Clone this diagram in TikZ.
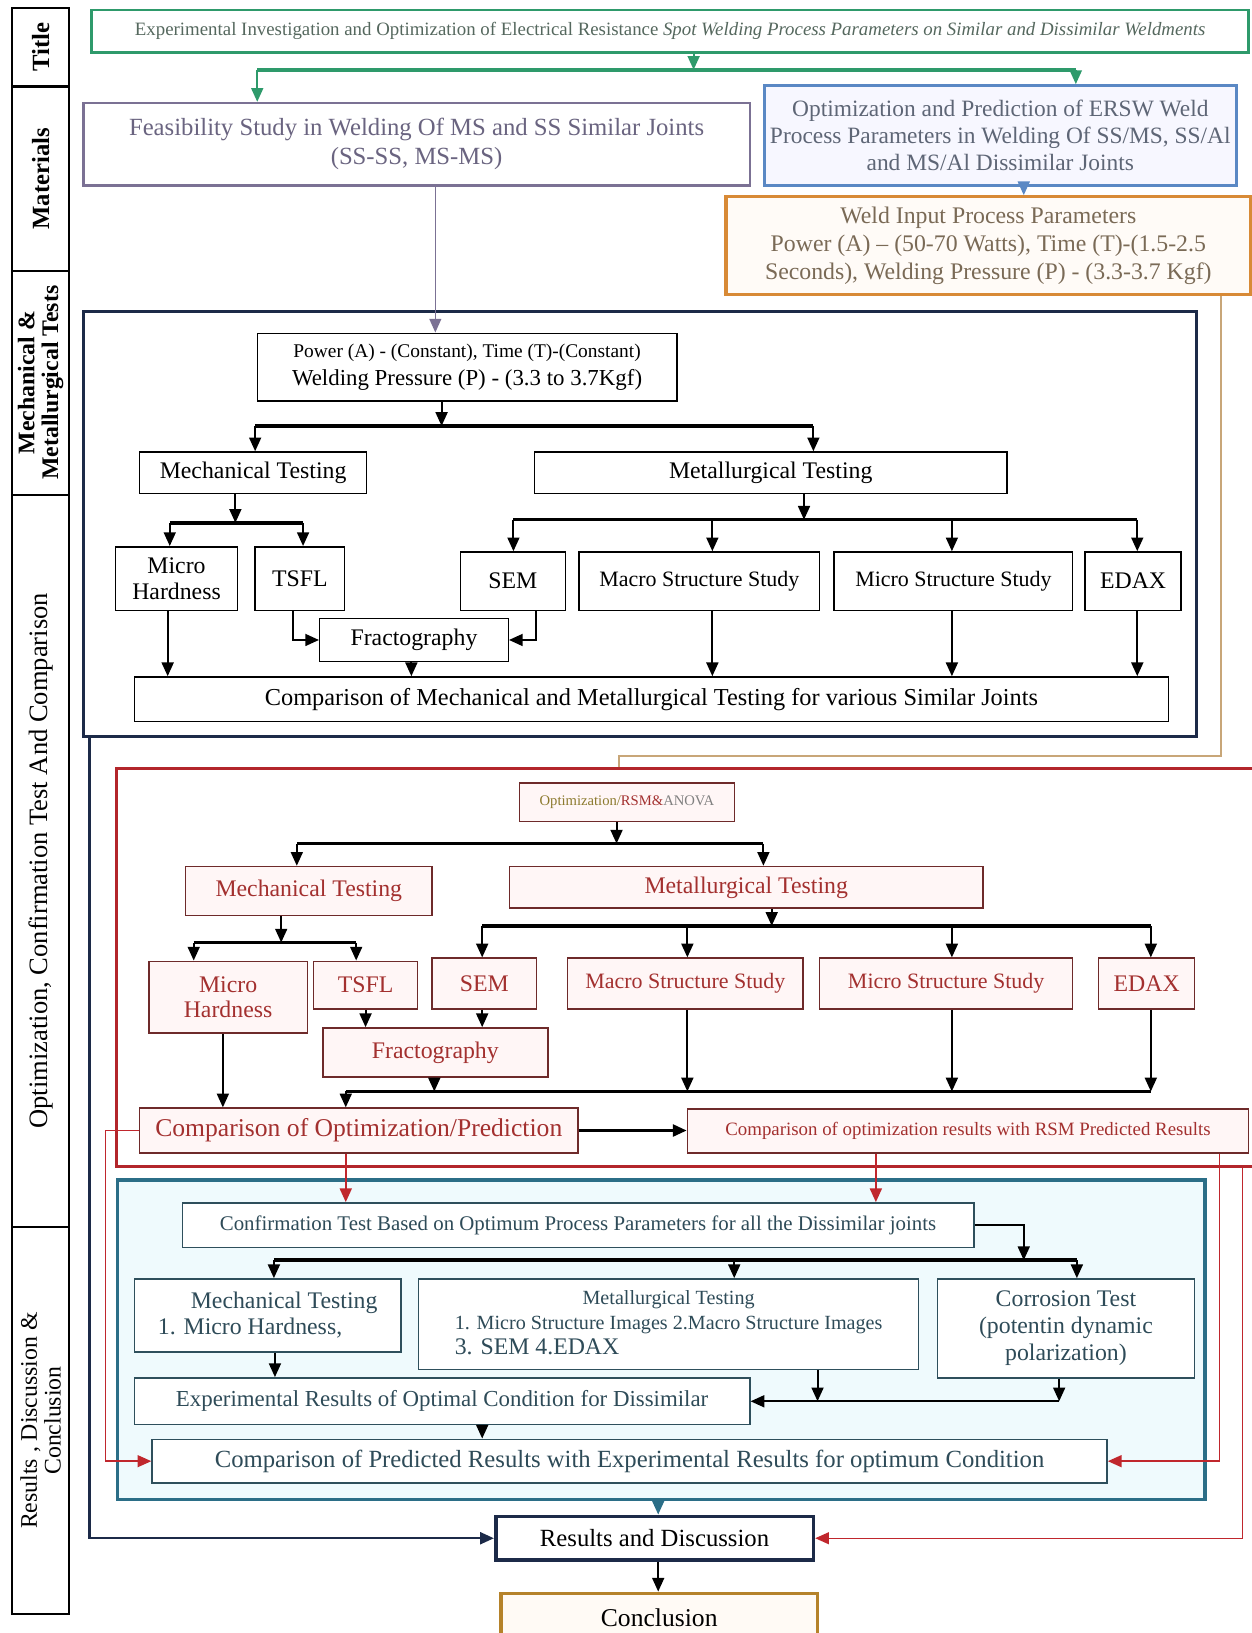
\documentclass[tikz,border=0pt]{standalone}
\usepackage{fontspec}
\setmainfont{Liberation Serif}
\usetikzlibrary{arrows.meta}
\newcommand{\setfs}[2]{\fontsize{#1}{#2}\selectfont}
\definecolor{navyline}{HTML}{1C2A48}
\definecolor{greenline}{HTML}{2E9A6B}
\definecolor{titletext}{HTML}{55685E}
\definecolor{purpleline}{HTML}{7B7194}
\definecolor{purpletext}{HTML}{6A6480}
\definecolor{blueline}{HTML}{5A88C4}
\definecolor{bluetext}{HTML}{5E6676}
\definecolor{orangeline}{HTML}{D88A36}
\definecolor{orangetext}{HTML}{7A6A56}
\definecolor{tanline}{HTML}{C8A678}
\definecolor{redframe}{HTML}{B3262B}
\definecolor{redline}{HTML}{6E2A2A}
\definecolor{redtext}{HTML}{A3302F}
\definecolor{redarrow}{HTML}{C0272D}
\definecolor{olivetext}{HTML}{8C7A2E}
\definecolor{pinkfill}{HTML}{FFF6F6}
\definecolor{tealframe}{HTML}{2B6E87}
\definecolor{tealfill}{HTML}{EFFAFD}
\definecolor{tealline}{HTML}{2E4F5C}
\definecolor{tealtext}{HTML}{2E4B58}
\definecolor{goldline}{HTML}{B5822A}
\tikzset{%
  wd/.style    = {minimum width=#1*0.02cm},%
  ht/.style    = {minimum height=#1*0.02cm},%
  box/.style   = {shape=rectangle, draw, align=center, inner sep=1pt, fill=white},%
  frame/.style = {shape=rectangle, draw, inner sep=0pt, line width=1.8pt},%
  nbox/.style  = {box, line width=0.8pt, font=\setfs{13}{15}},%
  rbox/.style  = {box, draw=redline, fill=pinkfill, text=redtext, line width=0.8pt, font=\setfs{13}{15}},%
  tbox/.style  = {box, draw=tealline, text=tealtext, line width=0.8pt, font=\setfs{13}{15}},%
  cell/.style  = {shape=rectangle, draw, line width=1.2pt, rotate=90, align=center, inner sep=0pt},%
  arr/.style   = {-{Triangle[length=7.5pt,width=6.5pt]}, line width=1.1pt},%
  bar/.style   = {line width=1.9pt}%
}

\begin{document}
\begin{tikzpicture}[x=0.02cm, y=-0.02cm]
\useasboundingbox (0,0) rectangle (1202,1568);
% left column
\node[cell, wd=75, ht=55, font=\bfseries\setfs{13.5}{14}] (ctitle) at (39,45.5) {Title};
\node[cell, wd=177, ht=55, font=\bfseries\setfs{13.5}{15}] (cmat) at (39,171.5) {Materials};
\node[cell, wd=215, ht=55, font=\bfseries\setfs{13}{13}] (cmmt) at (39,367.5) {Mechanical \&\\Metallurgical Tests};
\node[cell, wd=703, ht=55, font=\setfs{14.5}{16}] (copt) at (39,826.5) {Optimization, Confirmation Test And Comparison};
\node[cell, wd=372, ht=55, font=\setfs{13}{13}] (cres) at (39,1364) {Results , Discussion \&\\Conclusion};

% frames
\node[frame, draw=navyline, wd=1069, ht=408] (navyfr) at (614.5,503) {};
\node[frame, draw=redframe, wd=1094, ht=382] (redfr) at (659,929) {};
\node[frame, draw=tealframe, fill=tealfill, wd=1044, ht=307] (tealfr) at (635,1286.5) {};

% title and materials
\node[box, draw=greenline, line width=1.4pt, text=titletext, wd=1111, ht=41, font=\setfs{10.3}{11}] (title) at (643.5,30)
  {Experimental Investigation and Optimization of Electrical Resistance \textit{Spot Welding Process Parameters on Similar and Dissimilar Weldments}};
\node[box, draw=purpleline, line width=1.4pt, text=purpletext, wd=640, ht=79, font=\setfs{13.5}{16}] (feas) at (400,138.5)
  {Feasibility Study in Welding Of MS and SS Similar Joints\\(SS-SS, MS-MS)};
\node[box, draw=blueline, fill=blue!3, line width=1.4pt, text=bluetext, wd=453, ht=96, font=\setfs{12.8}{14.7}] (optp) at (960.5,130)
  {Optimization and Prediction of ERSW Weld\\Process Parameters in Welding Of SS/MS, SS/Al\\and MS/Al Dissimilar Joints};
\node[box, draw=orangeline, fill=orange!3, line width=1.8pt, text=orangetext, wd=504, ht=94, font=\setfs{13}{15.3}] (weld) at (949,236)
  {Weld Input Process Parameters\\Power (A) -- (50-70 Watts), Time (T)-(1.5-2.5\\Seconds), Welding Pressure (P) - (3.3-3.7 Kgf)};

% mechanical and metallurgical tests
\node[nbox, wd=403, ht=65] (pw) at (448.5,352.5)
  {{\setfs{10.6}{12}Power (A) - (Constant), Time (T)-(Constant)}\\{\setfs{12.5}{14.7}Welding Pressure (P) - (3.3 to 3.7Kgf)}};
\node[nbox, wd=218, ht=40] (mechn) at (243,454) {Mechanical Testing};
\node[nbox, wd=454, ht=40] (metn) at (740,454) {Metallurgical Testing};
\node[nbox, wd=117, ht=61, font=\setfs{13}{14}] (mhn) at (169.5,555.5) {Micro\\Hardness};
\node[nbox, wd=86, ht=61] (tsfln) at (288,555.5) {TSFL};
\node[nbox, wd=101, ht=56] (semn) at (492.5,558) {SEM};
\node[nbox, wd=231, ht=56, font=\setfs{12}{14}] (macron) at (671.5,558) {Macro Structure Study};
\node[nbox, wd=229, ht=56, font=\setfs{12}{14}] (micron) at (915.5,558) {Micro Structure Study};
\node[nbox, wd=92, ht=56] (edaxn) at (1088,558) {EDAX};
\node[nbox, wd=181, ht=41] (fracn) at (397.5,614.5) {Fractography};
\node[nbox, wd=993, ht=43, font=\setfs{13.3}{15}] (compn) at (625.5,671.5)
  {Comparison of Mechanical and Metallurgical Testing for various Similar Joints};

% optimization
\node[rbox, wd=206, ht=37, font=\setfs{8}{10}] (optrsm) at (602,770.5)
  {{\color{olivetext}Optimization/}RSM\&{\color{gray}ANOVA}};
\node[rbox, wd=237, ht=47] (mechr) at (296.5,855.5) {Mechanical Testing};
\node[rbox, wd=455, ht=40] (metr) at (716.5,852) {Metallurgical Testing};
\node[rbox, wd=152, ht=69, font=\setfs{13}{14}] (mhr) at (219,957.5) {Micro\\Hardness};
\node[rbox, wd=100, ht=46] (tsflr) at (351,946) {TSFL};
\node[rbox, wd=100, ht=49] (semr) at (465,944.5) {SEM};
\node[rbox, wd=226, ht=49, font=\setfs{12}{14}] (macror) at (658,944.5) {Macro Structure Study};
\node[rbox, wd=243, ht=49, font=\setfs{12}{14}] (micror) at (908.5,944.5) {Micro Structure Study};
\node[rbox, wd=92, ht=49] (edaxr) at (1101,944.5) {EDAX};
\node[rbox, wd=216, ht=47] (fracr) at (418,1010.5) {Fractography};
\node[rbox, wd=421, ht=43, font=\setfs{14}{16}] (compopt) at (344.5,1085.5) {Comparison of Optimization/Prediction};
\node[rbox, wd=539, ht=42, font=\setfs{10.3}{12}] (compres) at (929.5,1086)
  {Comparison of optimization results with RSM Predicted Results};

% confirmation and results
\node[tbox, wd=760, ht=43, font=\setfs{11.4}{13}] (confirm) at (555,1176.5)
  {Confirmation Test Based on Optimum Process Parameters for all the Dissimilar joints};
\node[tbox, wd=256, ht=70, align=left, font=\setfs{13}{14}] (mecht) at (257,1263)
  {\hspace*{18pt}Mechanical Testing\\1. Micro Hardness,\hspace*{16pt}};
\node[tbox, wd=480, ht=87, font=\setfs{11}{13.6}] (mett) at (642,1271.5)
  {\begin{tabular}{@{}l@{}}\multicolumn{1}{@{}c@{}}{Metallurgical Testing}\\
   1. Micro Structure Images 2.Macro Structure Images\\{\setfs{13}{13.6}3. SEM 4.EDAX}\end{tabular}};
\node[tbox, wd=247, ht=95, font=\setfs{13}{14.7}] (corrt) at (1023.5,1275.5)
  {Corrosion Test\\(potentin dynamic\\polarization)};
\node[tbox, wd=591, ht=45, font=\setfs{12.5}{14}] (expt) at (424.5,1345.5)
  {Experimental Results of Optimal Condition for Dissimilar};
\node[tbox, wd=917, ht=42, font=\setfs{13.5}{15}] (comppred) at (604.5,1403)
  {Comparison of Predicted Results with Experimental Results for optimum Condition};
\node[box, draw=navyline, line width=2pt, wd=305, ht=42, font=\setfs{13.5}{15}] (results) at (628.5,1477) {Results and Discussion};
\node[box, draw=goldline, fill=orange!4, line width=2pt, wd=304, ht=46, font=\setfs{14}{16}] (concl) at (633,1553) {Conclusion};

% connectors: title
\coordinate (tb0) at (666,67);
\draw[arr, greenline] (title.south -| tb0) -- (tb0);
\draw[bar, greenline] (247,67) coordinate (tbL) -- (1033,67) coordinate (tbR);
\draw[arr, greenline] (tbL) -- (tbL |- feas.north);
\draw[arr, greenline] (tbR) -- (tbR |- optp.north);
\draw[arr, blueline] (optp.south -| 983,0) -- (983,0 |- weld.north);
\draw[arr, purpleline, line width=0.8pt] (feas.south -| 418,0) -- (418,0 |- pw.north);
\draw[tanline, line width=1pt] (weld.south -| 1172,0) |- (594,726) -- (594,0 |- redfr.north);

% connectors: tests
\coordinate (nb0) at (424,409);
\draw[arr] (pw.south -| nb0) -- (nb0);
\draw[bar] (245,409) coordinate (nbL) -- (781,409) coordinate (nbR);
\draw[arr] (nbL) -- (nbL |- mechn.north);
\draw[arr] (nbR) -- (nbR |- metn.north);
\coordinate (nm0) at (226,502);
\draw[arr] (mechn.south -| nm0) -- (nm0);
\draw[bar] (163,502) coordinate (nmL) -- (291,502) coordinate (nmR);
\draw[arr] (nmL) -- (nmL |- mhn.north);
\draw[arr] (nmR) -- (nmR |- tsfln.north);
\coordinate (nt0) at (772,499);
\draw[arr] (metn.south -| nt0) -- (nt0);
\draw[bar] (493,499) -- (1092,499);
\foreach \xx/\nn in {493/semn, 684/macron, 914/micron, 1092/edaxn}
  \draw[arr] (\xx,499) -- (\xx,0 |- \nn.north);
\draw[arr] (tsfln.south -| 281,0) |- (fracn.west);
\draw[arr] (semn.south -| 515,0) |- (fracn.east);
\foreach \xx/\nn in {161/mhn, 395/fracn, 684/macron, 914/micron, 1092/edaxn}
  \draw[arr] (\nn.south -| \xx,0) -- (\xx,0 |- compn.north);

% connectors: optimization
\coordinate (rb0) at (592,810);
\draw[arr] (optrsm.south -| rb0) -- (rb0);
\draw[bar] (285,810) coordinate (rbL) -- (733,810) coordinate (rbR);
\draw[arr] (rbL) -- (rbL |- mechr.north);
\draw[arr] (rbR) -- (rbR |- metr.north);
\coordinate (rm0) at (270,905);
\draw[arr] (mechr.south -| rm0) -- (rm0);
\draw[bar] (186,905) coordinate (rmL) -- (342,905) coordinate (rmR);
\draw[arr] (rmL) -- (rmL |- mhr.north);
\draw[arr] (rmR) -- (rmR |- tsflr.north);
\coordinate (rt0) at (741,889);
\draw[arr] (metr.south -| rt0) -- (rt0);
\draw[bar] (463,889) -- (1105,889);
\foreach \xx/\nn in {463/semr, 660/macror, 914/micror, 1105/edaxr}
  \draw[arr] (\xx,889) -- (\xx,0 |- \nn.north);
\draw[arr] (tsflr.south) -- (tsflr.south |- fracr.north);
\draw[arr] (semr.south -| 463,0) -- (463,0 |- fracr.north);
\draw[bar] (332,1048) coordinate (rcL) -- (1105,1048);
\foreach \xx/\nn in {417/fracr, 660/macror, 914/micror, 1105/edaxr}
  \draw[arr] (\nn.south -| \xx,0) -- (\xx,1048);
\draw[arr] (rcL) -- (rcL |- compopt.north);
\draw[arr] (mhr.south -| 214,0) -- (214,0 |- compopt.north);
\draw[arr, line width=1.5pt] (compopt.east) -- (compres.west |- compopt.east);
\draw[arr, redarrow] (compopt.south -| 332,0) -- (332,0 |- confirm.north);
\draw[arr, redarrow] (compres.south -| 841,0) -- (841,0 |- confirm.north);
\draw[arr, redarrow, line width=0.8pt] (compopt.west) -- ++(-32,0) |- (comppred.west);
\draw[arr, redarrow, line width=0.8pt] (compres.south -| 1171,0) |- (comppred.east);

% connectors: confirmation
\coordinate (tb1) at (983,1210);
\draw[arr] (confirm.east) -| (tb1);
\draw[bar] (263,1210) coordinate (tcL) -- (1034,1210) coordinate (tcR);
\draw[arr] (tcL) -- (tcL |- mecht.north);
\draw[arr] (705,1210) -- (705,0 |- mett.north);
\draw[arr] (tcR) -- (tcR |- corrt.north);
\draw[arr] (mecht.south -| 264,0) -- (264,0 |- expt.north);
\draw[arr] (mett.south -| 785,0) -- (785,0 |- expt.east);
\draw[arr] (corrt.south -| 1017,0) -- (1017,0 |- expt.east);
\draw[arr] (1017,0 |- expt.east) -- (expt.east);
\draw[arr] (expt.south -| 463,0) -- (463,0 |- comppred.north);
\draw[arr, tealframe] (tealfr.south -| 632,0) -- (632,0 |- results.north);
\draw[arr] (results.south -| 632,0) -- (632,0 |- concl.north);
\draw[arr, navyline, line width=1.2pt] (navyfr.south -| 86,0) |- (results.west);
\draw[arr, redarrow, line width=0.8pt] (redfr.south -| 1193,0) |- (results.east);
\end{tikzpicture}
\end{document}
